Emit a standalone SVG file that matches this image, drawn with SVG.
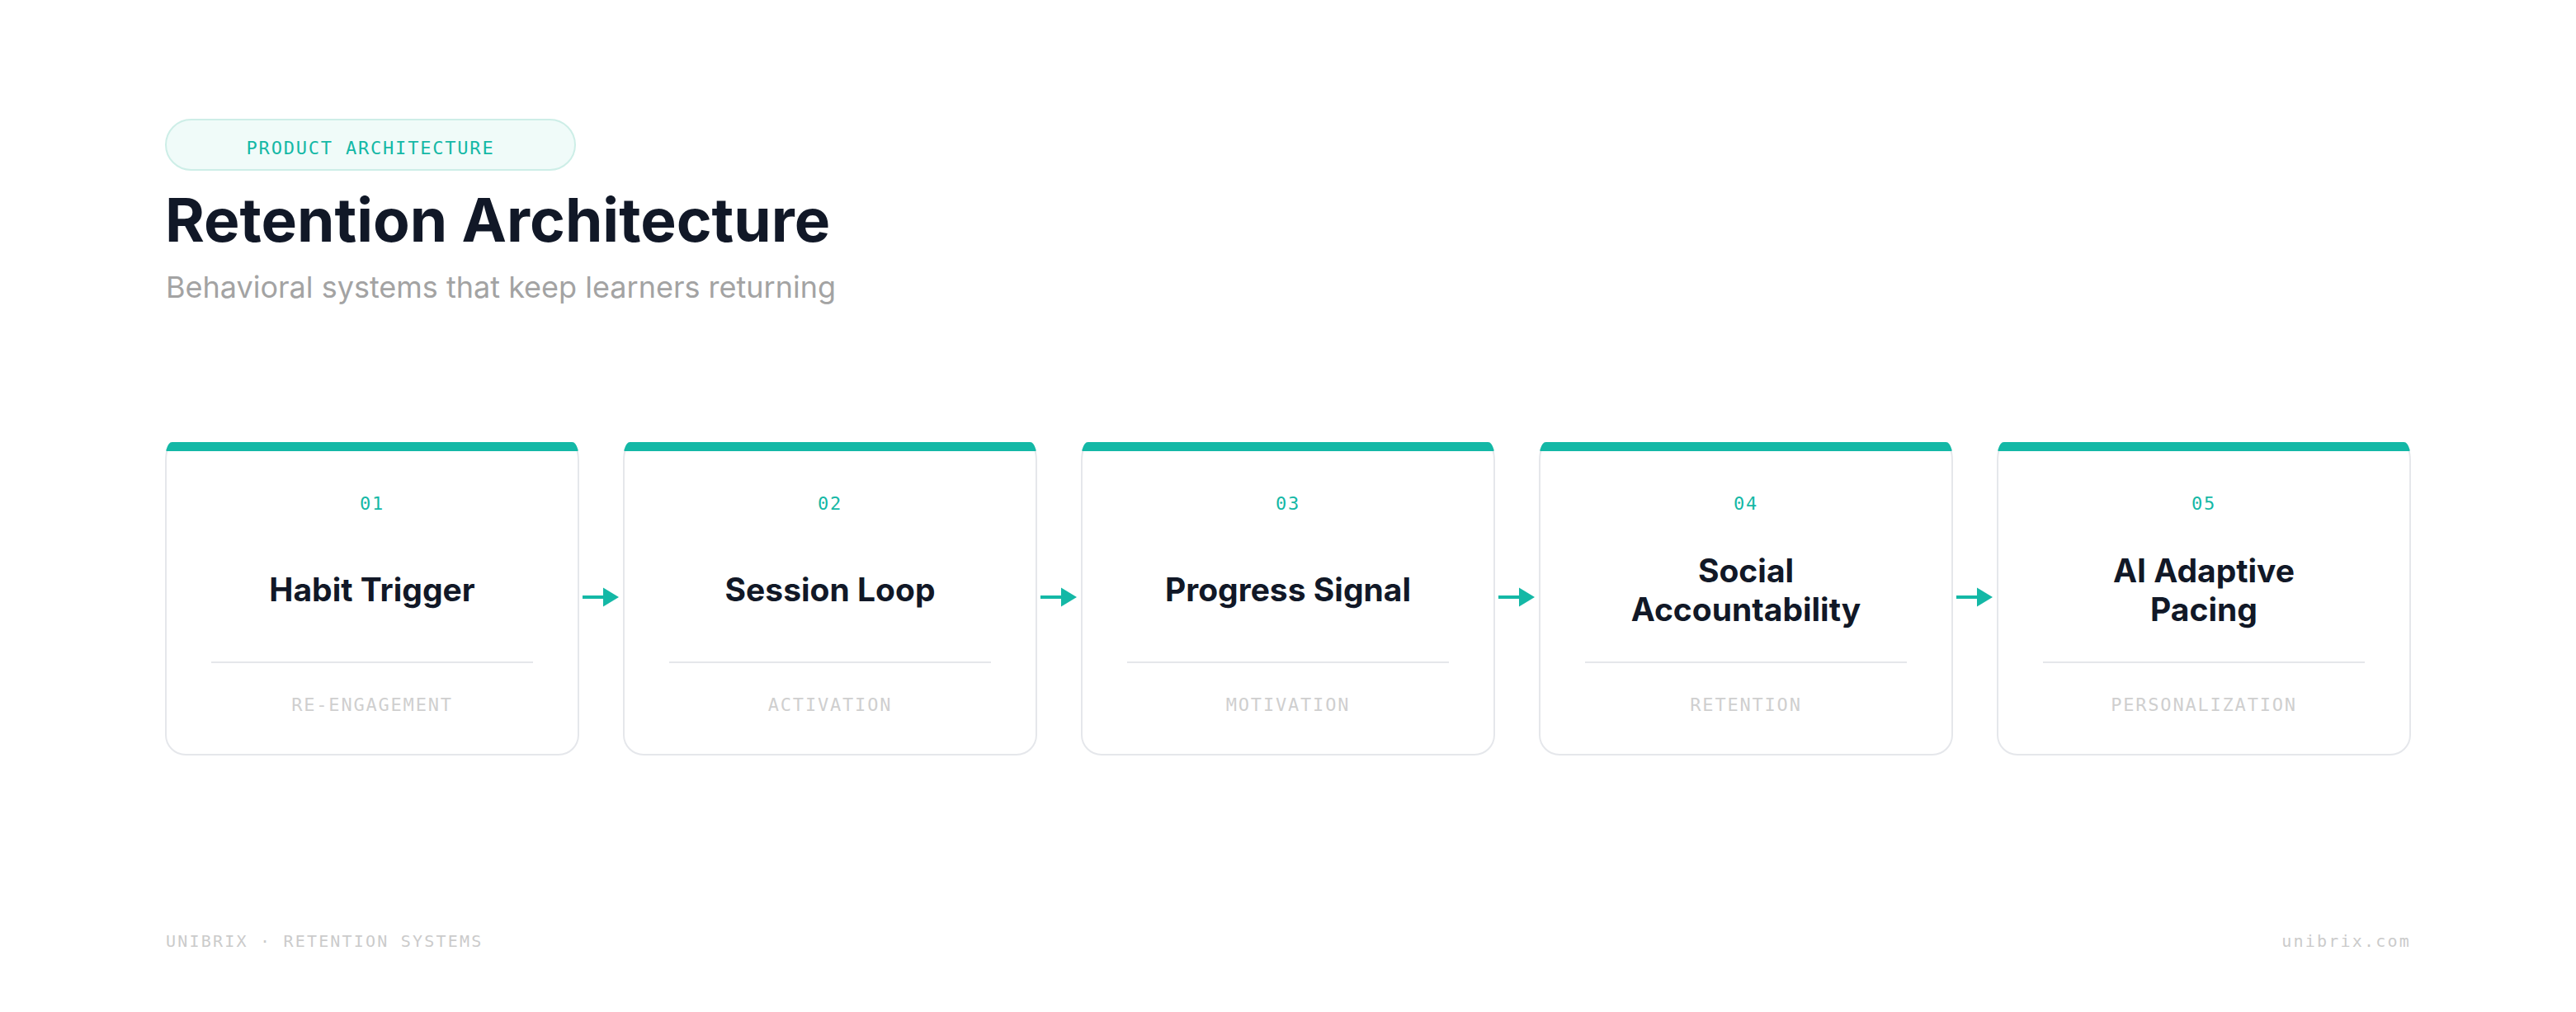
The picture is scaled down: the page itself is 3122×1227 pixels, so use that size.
<svg xmlns="http://www.w3.org/2000/svg" width="3122" height="1227" viewBox="0 0 3122 1227">
  <style>
    .mono { font-family: "DejaVu Sans Mono", "Liberation Mono", monospace; }
    .pill-text { font-size: 22px; letter-spacing: 1.8px; fill: #14b8a6; }
    .title { font-family: Inter, "Liberation Sans", sans-serif; font-weight: 700; font-size: 73px; fill: #111827; }
    .subtitle { font-family: Inter, "Liberation Sans", sans-serif; font-weight: 400; font-size: 36px; fill: #a3a3a3; }
    .card { fill: #ffffff; stroke: #e5e7eb; stroke-width: 2; }
    .bar { fill: #14b8a6; stroke: #14b8a6; stroke-width: 2; stroke-linejoin: round; }
    .num { font-size: 22px; letter-spacing: 1.8px; fill: #14b8a6; text-anchor: middle; }
    .name { font-family: Inter, "Liberation Sans", sans-serif; font-weight: 700; font-size: 39px; fill: #111827; text-anchor: middle; }
    .divider { stroke: #e5e7eb; stroke-width: 2; }
    .tag { font-size: 22px; letter-spacing: 1.8px; fill: #cfcfcf; text-anchor: middle; }
    .footer { font-size: 20px; letter-spacing: 2.2px; fill: #cbcbcb; }
    .arrow-shaft { stroke: #14b8a6; stroke-width: 4; fill: none; }
    .arrow-head { fill: #14b8a6; }
  </style>
  <defs>
    <path id="cardShape" d="M8,0 H492 A8 22 0 0 1 500,22 V354 A24 24 0 0 1 476,378 H24 A24 24 0 0 1 0,354 V22 A8 22 0 0 1 8,0 Z"/>
    <path id="barShape" d="M1.3,9 A8 22 0 0 1 8,0 H492 A8 22 0 0 1 498.7,9 Z"/>
  </defs>

  <rect x="0" y="0" width="3122" height="1227" fill="#ffffff"/>

  <g id="header">
    <rect x="201" y="145" width="496" height="61" rx="30.5" fill="#f0fbf9" stroke="#cdeee7" stroke-width="2"/>
    <text class="mono pill-text" x="449" y="187" text-anchor="middle">PRODUCT ARCHITECTURE</text>
    <text class="title" x="200" y="293">Retention Architecture</text>
    <text class="subtitle" x="201" y="361">Behavioral systems that keep learners returning</text>
  </g>

  <g id="node-01" transform="translate(201,537)">
    <use href="#cardShape" class="card"/>
    <use href="#barShape" class="bar"/>
    <text class="mono num" x="250" y="81">01</text>
    <text class="name" x="250" y="192">Habit Trigger</text>
    <line class="divider" x1="55" y1="266" x2="445" y2="266"/>
    <text class="mono tag" x="250" y="325">RE-ENGAGEMENT</text>
  </g>

  <g id="node-02" transform="translate(756,537)">
    <use href="#cardShape" class="card"/>
    <use href="#barShape" class="bar"/>
    <text class="mono num" x="250" y="81">02</text>
    <text class="name" x="250" y="192">Session Loop</text>
    <line class="divider" x1="55" y1="266" x2="445" y2="266"/>
    <text class="mono tag" x="250" y="325">ACTIVATION</text>
  </g>

  <g id="node-03" transform="translate(1311,537)">
    <use href="#cardShape" class="card"/>
    <use href="#barShape" class="bar"/>
    <text class="mono num" x="250" y="81">03</text>
    <text class="name" x="250" y="192">Progress Signal</text>
    <line class="divider" x1="55" y1="266" x2="445" y2="266"/>
    <text class="mono tag" x="250" y="325">MOTIVATION</text>
  </g>

  <g id="node-04" transform="translate(1866,537)">
    <use href="#cardShape" class="card"/>
    <use href="#barShape" class="bar"/>
    <text class="mono num" x="250" y="81">04</text>
    <text class="name" x="250" y="169">Social</text>
    <text class="name" x="250" y="216">Accountability</text>
    <line class="divider" x1="55" y1="266" x2="445" y2="266"/>
    <text class="mono tag" x="250" y="325">RETENTION</text>
  </g>

  <g id="node-05" transform="translate(2421,537)">
    <use href="#cardShape" class="card"/>
    <use href="#barShape" class="bar"/>
    <text class="mono num" x="250" y="81">05</text>
    <text class="name" x="250" y="169">AI Adaptive</text>
    <text class="name" x="250" y="216">Pacing</text>
    <line class="divider" x1="55" y1="266" x2="445" y2="266"/>
    <text class="mono tag" x="250" y="325">PERSONALIZATION</text>
  </g>

  <g id="connectors">
    <g transform="translate(701,0)">
      <line class="arrow-shaft" x1="5" y1="724" x2="32" y2="724"/>
      <polygon class="arrow-head" points="30,712.5 49,724 30,735.5"/>
    </g>
    <g transform="translate(1256,0)">
      <line class="arrow-shaft" x1="5" y1="724" x2="32" y2="724"/>
      <polygon class="arrow-head" points="30,712.5 49,724 30,735.5"/>
    </g>
    <g transform="translate(1811,0)">
      <line class="arrow-shaft" x1="5" y1="724" x2="32" y2="724"/>
      <polygon class="arrow-head" points="30,712.5 49,724 30,735.5"/>
    </g>
    <g transform="translate(2366,0)">
      <line class="arrow-shaft" x1="5" y1="724" x2="32" y2="724"/>
      <polygon class="arrow-head" points="30,712.5 49,724 30,735.5"/>
    </g>
  </g>

  <g id="footer">
    <text class="mono footer" x="201" y="1148">UNIBRIX · RETENTION SYSTEMS</text>
    <text class="mono footer" x="2922" y="1148" text-anchor="end">unibrix.com</text>
  </g>
</svg>
